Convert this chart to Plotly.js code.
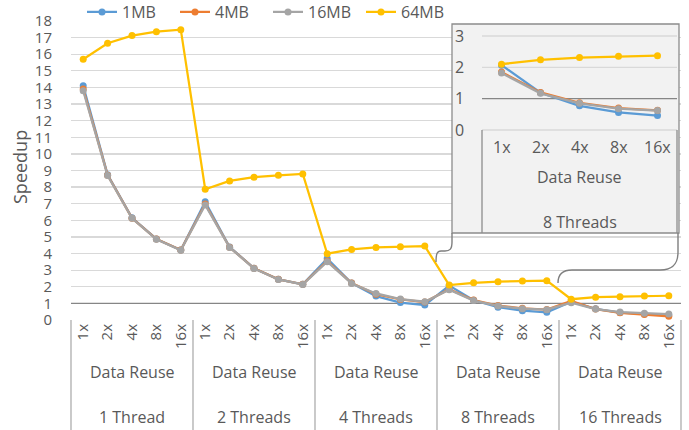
<!DOCTYPE html>
<html>
<head>
<meta charset="utf-8">
<script src="https://cdn.plot.ly/plotly-3.0.1.min.js"></script>
<style>html,body{margin:0;padding:0;background:#fff;}#chart{width:689px;height:430px;}</style>
</head>
<body>
<div id="chart"></div>
<script>
// ---- data ----
const reuse = ['1x', '2x', '4x', '8x', '16x'];
const groups = ['1 Thread', '2 Threads', '4 Threads', '8 Threads', '16 Threads'];
const seriesNames = ['1MB', '4MB', '16MB', '64MB'];
const mb1 = [14.10, 8.75, 6.15, 4.88, 4.21,
             7.12, 4.40, 3.12, 2.45, 2.15,
             3.70, 2.22, 1.44, 1.05, 0.90,
             2.07, 1.19, 0.77, 0.56, 0.46,
             1.10, 0.67, 0.45, 0.36, 0.30];
const mb4 = [13.90, 8.72, 6.13, 4.87, 4.21,
             6.98, 4.38, 3.11, 2.45, 2.15,
             3.55, 2.22, 1.55, 1.24, 1.08,
             1.85, 1.20, 0.87, 0.70, 0.63,
             1.14, 0.66, 0.43, 0.33, 0.22];
const mb16 = [13.80, 8.70, 6.12, 4.86, 4.20,
              6.92, 4.37, 3.10, 2.44, 2.14,
              3.51, 2.20, 1.60, 1.26, 1.10,
              1.82, 1.17, 0.85, 0.68, 0.62,
              1.04, 0.66, 0.48, 0.40, 0.36];
const mb64 = [15.70, 16.66, 17.12, 17.36, 17.48,
              7.87, 8.37, 8.60, 8.71, 8.79,
              3.99, 4.25, 4.37, 4.41, 4.45,
              2.10, 2.24, 2.31, 2.35, 2.37,
              1.25, 1.37, 1.40, 1.44, 1.46];
const colors = ['#5B9BD5', '#ED7D31', '#A5A5A5', '#FFC000'];
const insetGroup = '8 Threads';

// ---- geometry (pixels) ----
const W = 689, H = 430;
const L = 71, R = 681, T = 21, B = 320;
const PW = R - L, PH = B - T;
const px2x = p => (p - L) / PW;
const px2y = p => (B - p) / PH;
// inset box and its inner plot area
const box = {l: 452, r: 679, t: 24, b: 233};
const inner = {l: 482, r: 677, y0: 130, y3: 36};
const catW = (inner.r - inner.l) / reuse.length;
const unit = (inner.y0 - inner.y3) / 3;
const x2range = [-0.5 - (inner.l - box.l) / catW, reuse.length - 0.5 + (box.r - inner.r) / catW];
const y2range = [-(box.b - inner.y0) / unit, 3 + (inner.y3 - box.t) / unit];

const allSeries = [mb1, mb4, mb16, mb64];
const xIdx = mb1.map((_, i) => i);
const gi = groups.indexOf(insetGroup) * reuse.length;
const insetIdx = reuse.map((_, i) => i);

const traces = [];
allSeries.forEach((s, k) => {
  traces.push({
    type: 'scatter', mode: 'lines+markers', name: seriesNames[k],
    x: xIdx, y: s,
    line: {color: colors[k], width: 2.25},
    marker: {color: colors[k], size: 7},
    xaxis: 'x', yaxis: 'y'
  });
});
allSeries.forEach((s, k) => {
  traces.push({
    type: 'scatter', mode: 'lines+markers', name: seriesNames[k], showlegend: false,
    x: insetIdx, y: s.slice(gi, gi + reuse.length),
    line: {color: colors[k], width: 2.25},
    marker: {color: colors[k], size: 7},
    xaxis: 'x2', yaxis: 'y2'
  });
});

const txt = '#595959';
const fam = 'Open Sans, sans-serif';
const fnt = {family: fam, size: 16, color: txt};
const tickFnt = {family: fam, size: 15, color: txt};

const shapes = [];
// inset background (in inset subplot layer, above main grid)
shapes.push({type: 'rect', xref: 'x2', yref: 'y2', x0: x2range[0], x1: x2range[1], y0: y2range[0], y1: y2range[1],
  fillcolor: '#f2f2f2', line: {width: 0}, layer: 'below'});
// inset gridlines
[0, 2, 3].forEach(v => shapes.push({type: 'line', xref: 'x2', yref: 'y2', x0: -0.5, x1: reuse.length - 0.5, y0: v, y1: v,
  line: {color: '#d9d9d9', width: 1.3}, layer: 'below'}));
shapes.push({type: 'line', xref: 'x2', yref: 'y2', x0: -0.5, x1: reuse.length - 0.5, y0: 1, y1: 1,
  line: {color: '#868686', width: 1.3}, layer: 'below'});
[-0.5, reuse.length - 0.5].forEach(v => shapes.push({type: 'line', xref: 'x2', yref: 'y2', x0: v, x1: v, y0: 0, y1: y2range[0],
  line: {color: '#8c8c8c', width: 1.3}, layer: 'below'}));
// inset border
shapes.push({type: 'rect', xref: 'paper', yref: 'paper', x0: px2x(box.l), x1: px2x(box.r), y0: px2y(box.b), y1: px2y(box.t),
  fillcolor: 'rgba(0,0,0,0)', line: {color: '#8c8c8c', width: 1.3}, layer: 'above'});
// main reference line at 1
shapes.push({type: 'line', xref: 'x', yref: 'y', x0: -0.5, x1: mb1.length - 0.5, y0: 1, y1: 1,
  line: {color: '#868686', width: 1.3}, layer: 'between'});
// group separators
for (let k = 0; k <= groups.length; k++) {
  shapes.push({type: 'line', xref: 'paper', yref: 'paper', x0: k / groups.length, x1: k / groups.length,
    y0: 0, y1: px2y(H), line: {color: '#a6a6a6', width: 1.2}});
}
// callout connectors
function pathPx(cmds) {
  return cmds.map(c => {
    if (typeof c === 'string') return c;
    return px2x(c[0]).toFixed(5) + ',' + px2y(c[1]).toFixed(5);
  }).join(' ');
}
shapes.push({type: 'path', xref: 'paper', yref: 'paper', line: {color: '#7f7f7f', width: 1.4},
  path: pathPx(['M', [452, 233], 'L', [452, 242], 'C', [452, 249], [450, 251], [445, 251], 'L', [441, 251], 'C', [437, 251], [436, 254], [436, 262]])});
shapes.push({type: 'path', xref: 'paper', yref: 'paper', line: {color: '#7f7f7f', width: 1.4},
  path: pathPx(['M', [678, 233], 'L', [678, 252], 'C', [678, 265], [672, 270], [660, 270], 'L', [572, 270], 'C', [562, 270], [558, 275], [558, 283]])});

const annotations = [];
annotations.push({text: 'Speedup', xref: 'paper', yref: 'paper', x: px2x(20), y: px2y(167), textangle: -90,
  showarrow: false, font: {family: fam, size: 18, color: txt}, xanchor: 'center', yanchor: 'middle'});
groups.forEach((g, k) => {
  annotations.push({text: 'Data Reuse', xref: 'paper', yref: 'paper', x: (k + 0.5) / groups.length, y: px2y(372),
    showarrow: false, font: fnt, xanchor: 'center', yanchor: 'middle'});
  annotations.push({text: g, xref: 'paper', yref: 'paper', x: (k + 0.5) / groups.length, y: px2y(417),
    showarrow: false, font: fnt, xanchor: 'center', yanchor: 'middle'});
});
reuse.forEach((r, i) => annotations.push({text: r, xref: 'x2', yref: 'paper', x: i, y: px2y(147),
  showarrow: false, font: fnt, xanchor: 'center', yanchor: 'middle'}));
annotations.push({text: 'Data Reuse', xref: 'x2', yref: 'paper', x: (reuse.length - 1) / 2, y: px2y(177),
  showarrow: false, font: fnt, xanchor: 'center', yanchor: 'middle'});
annotations.push({text: insetGroup, xref: 'x2', yref: 'paper', x: (reuse.length - 1) / 2, y: px2y(222),
  showarrow: false, font: fnt, xanchor: 'center', yanchor: 'middle'});

const yTicks = [];
for (let v = 0; v <= 18; v++) yTicks.push(v);

const layout = {
  width: W, height: H,
  margin: {l: L, r: W - R, t: T, b: H - B, pad: 0, autoexpand: false},
  paper_bgcolor: '#ffffff', plot_bgcolor: '#ffffff',
  font: fnt,
  showlegend: true,
  legend: {orientation: 'h', x: px2x(82), y: px2y(-5), xanchor: 'left', yanchor: 'top',
    font: fnt, bgcolor: 'rgba(0,0,0,0)', traceorder: 'normal', entrywidth: 48, entrywidthmode: 'pixels'},
  xaxis: {domain: [0, 1], range: [-0.5, mb1.length - 0.5], tickmode: 'array', tickvals: xIdx,
    ticktext: groups.flatMap(() => reuse), tickangle: -90, showgrid: false, zeroline: false,
    showline: false, ticks: '', tickfont: tickFnt, fixedrange: true, automargin: false},
  yaxis: {domain: [0, 1], range: [0, 18], tickmode: 'array', tickvals: yTicks, showgrid: true,
    gridcolor: '#d9d9d9', gridwidth: 1.3, zeroline: false, showline: false, ticks: '',
    tickfont: tickFnt, ticklabelstandoff: 18, fixedrange: true, automargin: false},
  xaxis2: {domain: [px2x(box.l), px2x(box.r)], anchor: 'y2', range: x2range, showticklabels: false,
    showgrid: false, zeroline: false, showline: false, ticks: '', fixedrange: true},
  yaxis2: {domain: [px2y(box.b), px2y(box.t)], anchor: 'x2', range: y2range, tickmode: 'array',
    tickvals: [0, 1, 2, 3], ticklabelposition: 'inside', showgrid: false, zeroline: false,
    showline: false, ticks: '', tickfont: fnt, fixedrange: true},
  shapes: shapes,
  annotations: annotations,
  hovermode: false
};

Plotly.newPlot('chart', traces, layout, {staticPlot: true, displayModeBar: false});
</script>
</body>
</html>
